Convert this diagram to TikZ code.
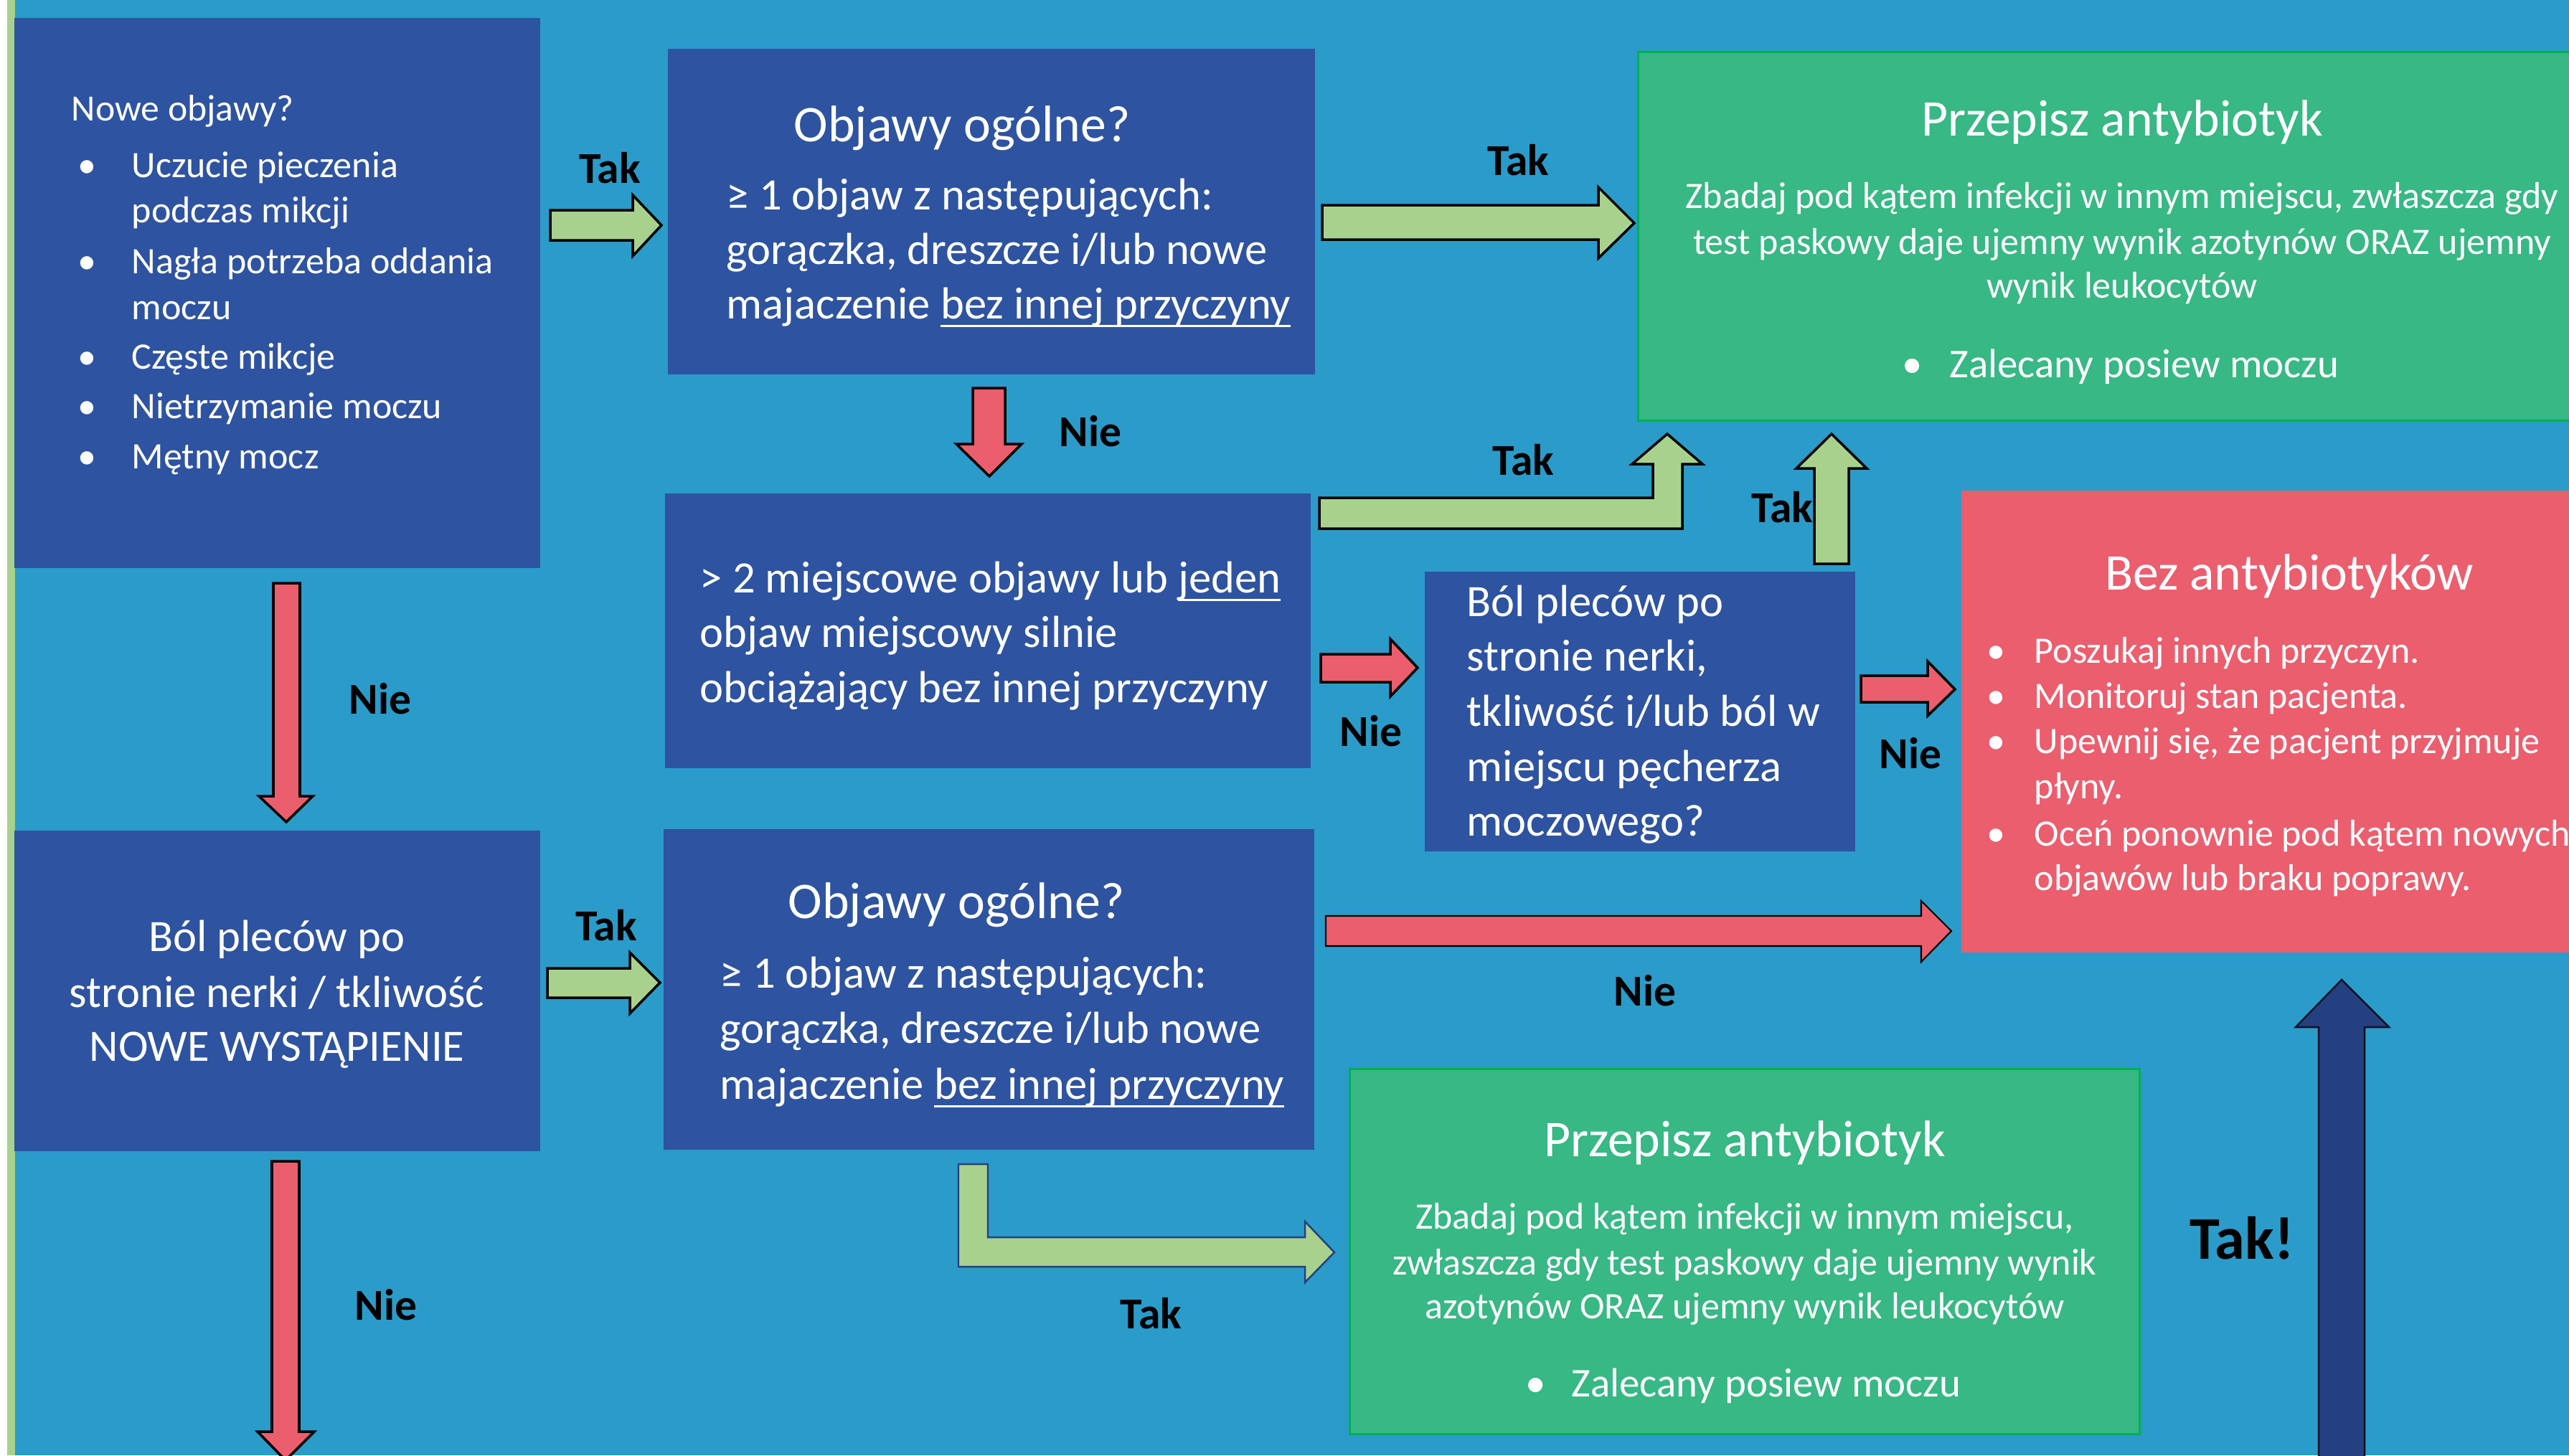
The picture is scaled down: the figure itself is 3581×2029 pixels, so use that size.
\documentclass[tikz,border=0pt]{standalone}
\usepackage{fontspec}
\setmainfont{Carlito}
\definecolor{bgblue}{RGB}{43,155,201}
\definecolor{dblue}{RGB}{46,83,160}
\definecolor{gbox}{RGB}{55,184,132}
\definecolor{gborder}{RGB}{0,176,80}
\definecolor{rbox}{RGB}{235,94,110}
\definecolor{lgreen}{RGB}{168,209,142}
\definecolor{navy}{RGB}{36,64,128}
\newcommand\myul[1]{\setbox0\hbox{#1}\rlap{\rule[-0.19em]{\wd0}{0.05em}}\box0}
\begin{document}
\begin{tikzpicture}[x=0.01cm,y=-0.01cm,
  box/.style={inner sep=0pt, outer sep=0pt, draw=none},
  dbox/.style={box, fill=dblue},
  gbx/.style={box, fill=gbox, draw=gborder, line width=0.9pt},
  tw/.style={text=white, inner sep=0pt, anchor=base west},
  tc/.style={text=white, inner sep=0pt, anchor=base},
  fa/.style={font=\fontsize{14.8}{18}\selectfont},
  fbul/.style={font=\fontsize{16.2}{19}\selectfont},
  fb/.style={font=\fontsize{17.8}{21.6}\selectfont},
  ft/.style={font=\fontsize{20.4}{24}\selectfont},
  lab/.style={font=\fontsize{17.5}{20}\selectfont\bfseries, inner sep=0pt, anchor=base},
  garr/.style={fill=lgreen, draw=black, line width=1pt, line join=miter},
  rarr/.style={fill=rbox, draw=black, line width=1pt, line join=miter},
]
\useasboundingbox (0,0) rectangle (3581,2029);
\clip (0,0) rectangle (3581,2029);
\fill[bgblue] (0,0) rectangle (3581,2029);
\fill[white] (0,0) rectangle (10,2029);
\fill[lgreen] (10,0) rectangle (21,2029);

% boxes
\node[dbox, minimum width=7.33cm, minimum height=7.67cm] (b1) at (386.5,408.5) {};
\node[dbox, minimum width=9.02cm, minimum height=4.54cm] (b2) at (1382,295) {};
\node[gbx, minimum width=13.48cm, minimum height=5.13cm] (g1) at (2958,329.5) {};
\node[dbox, minimum width=9.00cm, minimum height=3.83cm] (b3) at (1377,879.5) {};
\node[dbox, minimum width=6.00cm, minimum height=3.90cm] (b4) at (2286,992) {};
\node[box, fill=rbox, minimum width=9.14cm, minimum height=6.44cm] (r1) at (3191,1006) {};
\node[dbox, minimum width=7.33cm, minimum height=4.47cm] (b5) at (386.5,1381.5) {};
\node[dbox, minimum width=9.07cm, minimum height=4.47cm] (b6) at (1378.5,1379.5) {};
\node[gbx, minimum width=11.00cm, minimum height=5.08cm] (g2) at (2432,1745) {};

% box 1 text
\node[tw, font=\fontsize{14.7}{18}\selectfont] (t1a) at (99,168) {Nowe objawy?};
\begin{scope}[every node/.style={fa}]
\node[tc] (d1a) at (121,247) {•};
\node[tw] (t1b) at (183,247) {Uczucie pieczenia};
\node[tw] (t1c) at (183,310) {podczas mikcji};
\node[tc] (d1b) at (121,381) {•};
\node[tw] (t1d) at (183,381) {Nagła potrzeba oddania};
\node[tw] (t1e) at (183,445) {moczu};
\node[tc] (d1c) at (121,514) {•};
\node[tw] (t1f) at (183,514) {Częste mikcje};
\node[tc] (d1d) at (121,583) {•};
\node[tw] (t1g) at (183,583) {Nietrzymanie moczu};
\node[tc] (d1e) at (121,653) {•};
\node[tw] (t1h) at (183,653) {Mętny mocz};
\end{scope}

% box 2 text
\node[tw, ft] (t2a) at (1106,197) {Objawy ogólne?};
\node[tw, fb] (t2b) at (1012,292) {≥ 1 objaw z następujących:};
\node[tw, fb] (t2c) at (1012,368) {gorączka, dreszcze i/lub nowe};
\node[tw, fb] (t2d) at (1012,444) {majaczenie \myul{bez innej przyczyny}};

% box 3 text
\node[tw, fb] (t3a) at (975,826) {> 2 miejscowe objawy lub \myul{jeden}};
\node[tw, fb] (t3b) at (975,902) {objaw miejscowy silnie};
\node[tw, fb] (t3c) at (975,979) {obciążający bez innej przyczyny};

% box 4 text
\node[tw, fb] (t4a) at (2044,859) {Ból pleców po};
\node[tw, fb] (t4b) at (2044,935) {stronie nerki,};
\node[tw, fb] (t4c) at (2044,1012) {tkliwość i/lub ból w};
\node[tw, fb] (t4d) at (2044,1089) {miejscu pęcherza};
\node[tw, fb] (t4e) at (2044,1165) {moczowego?};

% box 5 text
\node[tc, fb] (t5a) at (386,1326) {Ból pleców po};
\node[tc, fb] (t5b) at (386,1404) {stronie nerki / tkliwość};
\node[tc, fb] (t5c) at (386,1479) {NOWE WYSTĄPIENIE};

% box 6 text
\node[tw, ft] (t6a) at (1098,1280) {Objawy ogólne?};
\node[tw, fb] (t6b) at (1003,1377) {≥ 1 objaw z następujących:};
\node[tw, fb] (t6c) at (1003,1454) {gorączka, dreszcze i/lub nowe};
\node[tw, fb] (t6d) at (1003,1532) {majaczenie \myul{bez innej przyczyny}};

% green box 1 text
\node[tc, ft] (tg1a) at (2958,189) {Przepisz antybiotyk};
\node[tc, fa] (tg1b) at (2958,290) {Zbadaj pod kątem infekcji w innym miejscu, zwłaszcza gdy};
\node[tc, fa] (tg1c) at (2958,354) {test paskowy daje ujemny wynik azotynów ORAZ ujemny};
\node[tc, fa] (tg1d) at (2958,415) {wynik leukocytów};
\node[tc, fbul] (dg1) at (2666,526) {•};
\node[tw, fbul] (tg1e) at (2717,526) {Zalecany posiew moczu};

% red box text
\node[tc, ft] (tra) at (3191,822) {Bez antybiotyków};
\begin{scope}[every node/.style={fa}]
\node[tc] (dr1) at (2782,924) {•};
\node[tw] (trb) at (2835,924) {Poszukaj innych przyczyn.};
\node[tc] (dr2) at (2782,987) {•};
\node[tw] (trc) at (2835,987) {Monitoruj stan pacjenta.};
\node[tc] (dr3) at (2782,1050) {•};
\node[tw] (trd) at (2835,1050) {Upewnij się, że pacjent przyjmuje};
\node[tw] (tre) at (2835,1113) {płyny.};
\node[tc] (dr4) at (2782,1179) {•};
\node[tw] (trf) at (2835,1179) {Oceń ponownie pod kątem nowych};
\node[tw] (trg) at (2835,1241) {objawów lub braku poprawy.};
\end{scope}

% green box 2 text
\node[tc, ft] (tg2a) at (2432,1612) {Przepisz antybiotyk};
\node[tc, fa] (tg2b) at (2432,1713) {Zbadaj pod kątem infekcji w innym miejscu,};
\node[tc, fa] (tg2c) at (2432,1777) {zwłaszcza gdy test paskowy daje ujemny wynik};
\node[tc, fa] (tg2d) at (2432,1838) {azotynów ORAZ ujemny wynik leukocytów};
\node[tc, fbul] (dg2) at (2141,1947) {•};
\node[tw, fbul] (tg2e) at (2190,1947) {Zalecany posiew moczu};

% block arrows
\draw[garr] (767,293) -- (882,293) -- (882,272) -- (922,314) -- (882,357) -- (882,335) -- (767,335) -- cycle;
\draw[garr] (1843,286) -- (2228,286) -- (2228,261) -- (2278,311) -- (2228,360) -- (2228,334) -- (1843,334) -- cycle;
\draw[rarr] (1356,541) -- (1401,541) -- (1401,619) -- (1424,619) -- (1379,664) -- (1333,619) -- (1356,619) -- cycle;
\draw[garr] (1839,694) -- (2304,694) -- (2304,647) -- (2275,647) -- (2324,605) -- (2373,647) -- (2345,647) -- (2345,737) -- (1839,737) -- cycle;
\draw[garr] (2529,786) -- (2529,653) -- (2504,653) -- (2553,605) -- (2602,653) -- (2577,653) -- (2577,786) -- cycle;
\draw[rarr] (1841,912) -- (1938,912) -- (1938,891) -- (1976,931) -- (1938,971) -- (1938,951) -- (1841,951) -- cycle;
\draw[rarr] (2594,942) -- (2687,942) -- (2687,922) -- (2725,961) -- (2687,998) -- (2687,979) -- (2594,979) -- cycle;
\draw[rarr] (381,813) -- (418,813) -- (418,1110) -- (436,1110) -- (399,1146) -- (361,1110) -- (381,1110) -- cycle;
\draw[garr] (763,1350) -- (878,1350) -- (878,1328) -- (920,1370) -- (878,1413) -- (878,1391) -- (763,1391) -- cycle;
\draw[rarr, line width=0.6pt] (1848,1277) -- (2678,1277) -- (2678,1256) -- (2720,1298) -- (2678,1341) -- (2678,1319) -- (1848,1319) -- cycle;
\draw[garr, draw=navy, line width=0.7pt] (1336,1623) -- (1377,1623) -- (1377,1725) -- (1819,1725) -- (1819,1703) -- (1860,1746) -- (1819,1788) -- (1819,1766) -- (1336,1766) -- cycle;
\draw[rarr] (379,1619) -- (417,1619) -- (417,1996) -- (438,1996) -- (398,2036) -- (359,1996) -- (379,1996) -- cycle;
\draw[fill=navy, draw=black!70!navy, line width=0.7pt] (3232,2060) -- (3232,1432) -- (3200,1432) -- (3264,1366) -- (3330,1432) -- (3296,1432) -- (3296,2060) -- cycle;

% labels
\node[lab] (l1) at (850,255) {Tak};
\node[lab] (l2) at (2116,244) {Tak};
\node[lab] (l3) at (1520,622) {Nie};
\node[lab] (l4) at (2123,662) {Tak};
\node[lab] (l5) at (2484,728) {Tak};
\node[lab] (l6) at (1911,1040) {Nie};
\node[lab] (l7) at (2663,1071) {Nie};
\node[lab] (l8) at (530,995) {Nie};
\node[lab] (l9) at (845,1311) {Tak};
\node[lab] (l10) at (2293,1402) {Nie};
\node[lab] (l11) at (1604,1852) {Tak};
\node[lab] (l12) at (538,1840) {Nie};
\node[lab, font=\fontsize{24}{28}\selectfont\bfseries] (l13) at (3125,1755) {Tak!};
\end{tikzpicture}
\end{document}
